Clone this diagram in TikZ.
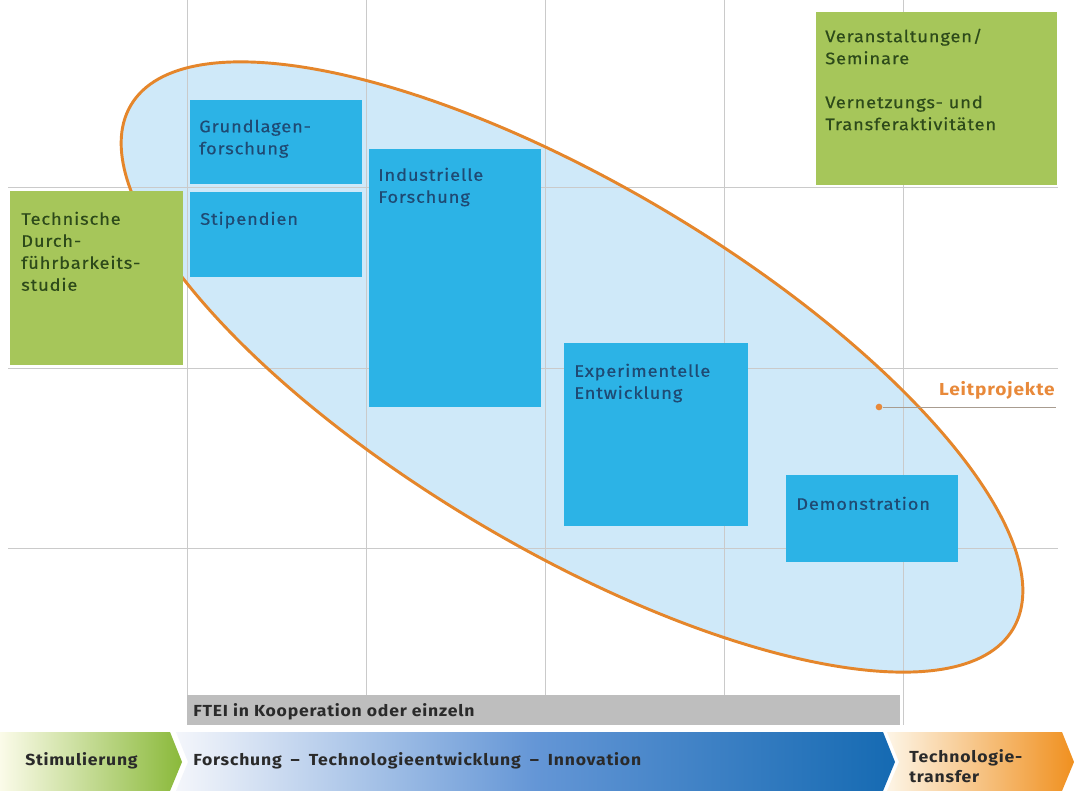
\documentclass[tikz,border=0pt]{standalone}
\usepackage{fontspec}
\setmainfont{Fira Sans}[FakeStretch=1.1,LetterSpace=5,UprightFeatures={FakeBold=0.35}]
\definecolor{gridc}{HTML}{CACACA}
\definecolor{ellfill}{HTML}{CFE9F9}
\definecolor{ellline}{HTML}{E5862B}
\definecolor{boxblue}{HTML}{2CB3E6}
\definecolor{txtblue}{HTML}{1F4A73}
\definecolor{boxgreen}{HTML}{A6C65A}
\definecolor{txtgreen}{HTML}{2D4A1A}
\definecolor{bargray}{HTML}{BEBEBE}
\definecolor{bandtxtc}{HTML}{2A2A2A}
\definecolor{leitc}{HTML}{E8893A}
\definecolor{calloutc}{HTML}{A89C90}
\begin{document}
\begin{tikzpicture}[x=0.75pt,y=-0.75pt,
  gridline/.style={draw=gridc, line width=0.75pt},
  bluebox/.style={fill=boxblue, inner sep=0, anchor=north west},
  greenbox/.style={fill=boxgreen, inner sep=0, anchor=north west},
  bluetxt/.style={text=txtblue, inner sep=0, anchor=north west, align=left, font=\fontsize{12.5}{16.5}\selectfont},
  greentxt/.style={bluetxt, text=txtgreen},
  bandtxt/.style={text=bandtxtc, inner sep=0, anchor=base west, font=\fontsize{12}{15}\selectfont\bfseries},
]
\useasboundingbox (0,0) rectangle (1074,791);
\fill[white] (0,0) rectangle (1074,791);

% ellipse fill
\fill[ellfill, rotate around={-30.7:(572,367)}] (572,367) ellipse [x radius=384.75pt, y radius=136.5pt];

% grid
\foreach \x in {187,366,545,724,903} \draw[gridline] (\x,0) -- (\x,725);
\foreach \y in {188,369,548} \draw[gridline] (8,\y) -- (1058,\y);

% ellipse outline
\draw[ellline, line width=2.2pt, rotate around={-30.7:(572,367)}] (572,367) ellipse [x radius=384.75pt, y radius=136.5pt];

% boxes
\node[bluebox, minimum width=129pt, minimum height=63pt] (grund) at (190,100) {};
\node[bluebox, minimum width=129pt, minimum height=63.75pt] (stip) at (190,192) {};
\node[bluebox, minimum width=129pt, minimum height=193.5pt] (indus) at (369,149) {};
\node[bluebox, minimum width=138pt, minimum height=137.25pt] (exper) at (564,343) {};
\node[bluebox, minimum width=129pt, minimum height=65.25pt] (demo) at (786,475) {};
\node[greenbox, minimum width=129.75pt, minimum height=130.5pt] (techn) at (10,191) {};
\node[greenbox, minimum width=180.75pt, minimum height=129.75pt] (veran) at (816,12) {};

% box texts
\node[bluetxt] (grundT) at (199,119.5) {Grundlagen-\\forschung};
\node[bluetxt] (stipT) at (200,211.5) {Stipendien};
\node[bluetxt] (indusT) at (378,167.5) {Industrielle\\Forschung};
\node[bluetxt] (experT) at (574,363.5) {Experimentelle\\Entwicklung};
\node[bluetxt] (demoT) at (796,496.5) {Demonstration};
\node[greentxt] (technT) at (21,211.5) {Technische\\Durch-\\führbarkeits-\\studie};
\node[greentxt] (veranT) at (825,28.5) {Veranstaltungen/\\Seminare\\[16.5pt]Vernetzungs- und\\Transferaktivitäten};

% Leitprojekte callout
\node[circle, fill=leitc, inner sep=0, minimum size=5pt] (lpdot) at (879,407) {};
\coordinate (lpend) at (1056,407);
\draw[draw=calloutc, line width=0.6pt] (lpdot) -- (lpend);
\node[text=leitc, inner sep=0, anchor=base east, font=\fontsize{13}{16}\selectfont\bfseries] (leit) at (1055,395) {Leitprojekte};

% gray bar
\node[fill=bargray, inner sep=0, anchor=north west, minimum width=534.75pt, minimum height=22.5pt] (ftei) at (187,695) {};
\node[bandtxt] (fteiT) at (193,716) {FTEI in Kooperation oder einzeln};

% bottom band
\shade[left color={rgb,255:red,251;green,251;blue,233}, right color={rgb,255:red,138;green,185;blue,58}]
  (0,732) -- (170,732) -- (182,762) -- (170,791) -- (0,791) -- cycle;
\shade[left color={rgb,255:red,244;green,246;blue,251}, right color={rgb,255:red,21;green,106;blue,178}, middle color={rgb,255:red,100;green,150;blue,214}]
  (176,732) -- (883,732) -- (895,762) -- (883,791) -- (176,791) -- (188,762) -- cycle;
\shade[left color={rgb,255:red,253;green,245;blue,230}, right color={rgb,255:red,240;green,144;blue,31}]
  (887,732) -- (1062,732) -- (1074,762) -- (1062,791) -- (887,791) -- (899,762) -- cycle;

\node[bandtxt] (stimT) at (25,765) {Stimulierung};
\node[bandtxt] (fteT) at (193,765) {Forschung\hspace{3pt} – \hspace{3pt}Technologieentwicklung\hspace{3pt} – \hspace{3pt}Innovation};
\node[bandtxt, anchor=north west, align=left] (transT) at (909,749) {Technologie-\\transfer};
\end{tikzpicture}
\end{document}
